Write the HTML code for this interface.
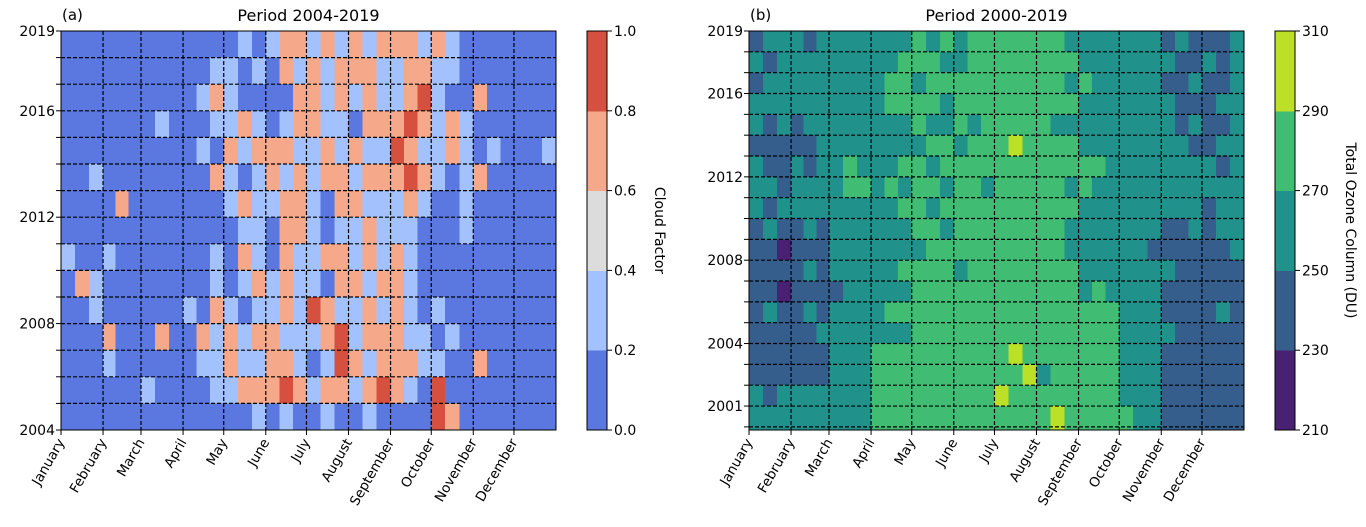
<!DOCTYPE html>
<html><head><meta charset="utf-8">
<style>
html,body{margin:0;padding:0;background:#fff;}
svg{display:block;font-family:"DejaVu Sans","Liberation Sans",sans-serif;}
</style></head>
<body>
<svg id="fig" width="1366" height="527" viewBox="0 0 1366 527" xmlns="http://www.w3.org/2000/svg"></svg>
<script>
// ---- data ----
const months = ["January","February","March","April","May","June","July","August","September","October","November","December"];
const monthStartDays = [0,31,59,90,120,151,181,212,243,273,304,334,365];
// Panel a: cloud factor class (0..4 -> 0.1..0.9), rows 2018 (top) .. 2004 (bottom), 36 ten-day bins
const cloudYears = [2018,2017,2016,2015,2014,2013,2012,2011,2010,2009,2008,2007,2006,2005,2004];
const cloudClass = [
[0,0,0,0,0,0,0,0,0,0,0,0,0,1,0,1,3,3,1,3,1,3,1,3,3,3,1,3,1,0,0,0,0,0,0,0],
[0,0,0,0,0,0,0,0,0,0,0,1,1,0,1,0,3,1,3,1,3,3,3,1,1,3,3,1,1,0,0,0,0,0,0,0],
[0,0,0,0,0,0,0,0,0,0,1,3,1,0,0,0,0,3,3,1,3,1,3,1,1,3,4,1,0,0,3,0,0,0,0,0],
[0,0,0,0,0,0,0,1,0,0,0,1,1,3,1,0,1,3,3,1,1,0,3,3,3,4,3,1,3,1,0,0,0,0,0,0],
[0,0,0,0,0,0,0,0,0,0,1,0,3,1,3,3,3,1,1,3,1,3,1,1,4,3,1,1,3,1,0,1,0,0,0,1],
[0,0,1,0,0,0,0,0,0,0,0,3,1,0,1,3,1,3,1,3,3,1,3,3,3,4,3,1,0,1,3,0,0,0,0,0],
[0,0,0,0,3,0,0,0,0,0,0,0,1,3,1,1,3,3,1,0,3,3,1,1,1,3,1,0,0,1,0,0,0,0,0,0],
[0,0,0,0,0,0,0,0,0,0,0,0,0,1,1,0,3,3,1,0,1,1,3,1,1,1,0,0,0,1,0,0,0,0,0,0],
[1,0,0,1,0,0,0,0,0,0,0,1,0,3,1,0,3,1,1,3,3,1,3,1,3,1,0,0,0,0,0,0,0,0,0,0],
[0,3,1,0,0,0,0,0,0,0,0,1,0,1,3,1,3,1,1,0,3,3,1,3,3,1,0,0,0,0,0,0,0,0,0,0],
[0,0,1,0,0,0,0,0,0,1,0,3,1,0,1,1,3,1,4,3,1,1,3,1,3,1,0,1,0,0,0,0,0,0,0,0],
[0,0,0,3,0,0,0,3,0,0,3,1,3,1,3,3,1,1,1,3,4,1,3,3,3,1,1,0,1,0,0,0,0,0,0,0],
[0,0,0,1,0,0,0,0,0,0,1,1,3,1,1,3,3,1,0,1,4,3,1,3,3,3,1,1,0,0,3,0,0,0,0,0],
[0,0,0,0,0,0,1,0,0,0,0,1,1,3,3,3,4,3,1,3,3,1,3,4,3,1,0,4,0,0,0,0,0,0,0,0],
[0,0,0,0,0,0,0,0,0,0,0,0,0,0,1,0,1,0,0,1,0,0,1,0,0,0,0,4,3,0,0,0,0,0,0,0]
];
const cloudTicks = [2004,2008,2012,2016,2019];
const cloudBarTicks = ["0.0","0.2","0.4","0.6","0.8","1.0"];
// Panel b: ozone class (0..4 -> 220..300 DU), rows 2018 (top) .. 2000 (bottom)
const ozoneYears = [2018,2017,2016,2015,2014,2013,2012,2011,2010,2009,2008,2007,2006,2005,2004,2003,2002,2001,2000];
const ozoneClass = [
[1,2,2,2,1,2,2,2,2,2,2,2,3,2,3,2,3,3,3,3,3,3,3,2,2,2,2,2,2,2,1,2,1,1,1,2],
[2,1,2,2,2,2,2,2,2,2,2,3,3,3,2,2,3,3,3,3,3,3,3,3,2,2,2,2,2,2,2,1,1,2,1,2],
[1,2,2,2,2,2,2,2,2,2,3,3,2,3,3,3,3,3,3,3,3,3,3,2,3,2,2,2,2,2,1,1,2,1,1,2],
[2,2,2,2,2,2,2,2,2,2,3,3,3,3,2,3,3,3,3,3,3,3,3,3,2,2,2,2,2,2,2,1,1,1,2,2],
[2,1,2,1,2,2,2,2,2,2,2,2,3,2,2,3,2,3,3,3,3,3,2,2,2,2,2,2,2,2,2,1,2,1,1,2],
[1,1,1,1,1,2,2,2,2,2,2,2,2,3,3,2,3,3,3,4,3,3,3,3,2,2,2,2,2,2,2,2,1,1,2,2],
[2,1,1,2,1,2,2,3,2,2,2,3,3,2,3,3,3,3,3,3,3,3,3,3,3,3,2,2,2,2,2,2,2,2,1,2],
[2,2,1,2,2,2,2,3,3,2,3,2,3,3,2,3,3,2,3,3,3,3,3,2,3,2,2,2,2,2,2,2,2,2,2,2],
[2,1,2,2,2,2,2,2,2,2,2,3,3,2,3,3,3,3,3,3,3,3,3,3,2,2,2,2,2,2,2,2,2,1,2,2],
[1,2,1,1,2,1,2,2,2,2,2,2,3,3,2,3,3,3,3,3,3,3,3,2,2,2,2,2,2,2,1,1,2,1,2,2],
[1,1,0,1,1,1,2,2,2,2,2,2,2,3,3,3,3,3,3,3,3,3,3,2,2,2,2,2,2,1,1,1,1,1,1,2],
[1,1,1,1,2,1,2,2,2,2,2,3,3,3,3,2,3,3,3,3,3,3,3,3,2,2,2,2,2,2,2,1,1,1,1,1],
[1,1,0,1,1,1,1,2,2,2,2,2,3,3,3,3,3,3,3,3,3,3,3,3,2,3,2,2,2,2,1,1,1,1,1,1],
[1,2,1,1,2,1,2,2,2,2,3,3,3,3,3,3,3,3,3,3,3,3,3,3,3,3,3,2,2,2,1,1,1,1,2,1],
[1,1,1,1,1,2,2,2,2,2,2,2,3,3,3,3,3,3,3,3,3,3,3,3,3,3,3,2,2,2,2,1,1,1,1,1],
[1,1,1,1,1,1,2,2,2,3,3,3,3,3,3,3,3,3,3,4,3,3,3,3,3,3,3,2,2,2,1,1,1,1,1,1],
[1,1,1,1,1,1,2,2,2,3,3,3,3,3,3,3,3,3,3,3,4,2,3,3,3,3,3,2,2,2,1,1,1,1,1,1],
[2,1,2,2,2,2,2,2,2,3,3,3,3,3,3,3,3,3,4,3,3,3,3,3,3,3,3,2,2,2,1,1,1,1,1,1],
[2,2,2,2,2,2,2,2,2,3,3,3,3,3,3,3,3,3,3,3,3,3,4,3,3,3,3,3,2,2,1,1,1,1,1,1]
];
const ozoneTicks = [2001,2004,2008,2012,2016,2019];
const ozoneBarTicks = ["210","230","250","270","290","310"];

const coolColors = ["#5a78e0","#a2c1fd","#dcdcdc","#f5a98a","#d5503f"];
const virColors = ["#482172","#355e8d","#21918c","#40bd72","#bcdf27"];

const NS="http://www.w3.org/2000/svg";
const svg=document.getElementById('fig');
function el(tag,attrs,parent){const e=document.createElementNS(NS,tag);for(const k in attrs)e.setAttribute(k,attrs[k]);(parent||svg).appendChild(e);return e;}

function panel(cfg){
  const g=el('g',{});
  
  
  const {x0,x1,y0,y1,yTop,yBot}=cfg;
  const xs=d=>x0+(x1-x0)*d/365;
  const ys=yr=>y1-(y1-y0)*(yr-yBot)/(yTop-yBot);
  const cg=el('g',{'shape-rendering':'crispEdges'},g);
  
  
  cfg.years.forEach((yr,r)=>{
    const top=Math.max(ys(yr+1),y0), bot=Math.min(ys(yr),y1);
    const yb = r===cfg.years.length-1 ? y1 : bot;
    cfg.data[r].forEach((c,k)=>{
      const m=Math.floor(k/3), p=k%3;
      const ds=monthStartDays[m], de=monthStartDays[m+1];
      const a=xs(ds+(de-ds)*p/3), b=xs(ds+(de-ds)*(p+1)/3);
      const rc=el('rect',{x:a,y:top,width:b-a+0.6,height:yb-top+0.6,fill:cfg.colors[c]},cg);
      
      
    });
  });
  for(let m=1;m<12;m++){
    const x=xs(monthStartDays[m]);
    const l=el('line',{x1:x,x2:x,y1:y0,y2:y1,stroke:'#000','stroke-width':1.2,'stroke-dasharray':'4,2'},g);
    
    
  }
  for(let yr=Math.ceil(yBot);yr<=Math.floor(yTop);yr++){
    const y=ys(yr); if(y<=y0+1||y>=y1-1)continue;
    const l=el('line',{x1:x0,x2:x1,y1:y,y2:y,stroke:'#000','stroke-width':1.2,'stroke-dasharray':'4,2'},g);
    
    
  }
  for(let yr=Math.ceil(yBot);yr<=Math.floor(yTop);yr++){
    const y=ys(yr);
    el('line',{x1:x0-5,x2:x0,y1:y,y2:y,stroke:'#000','stroke-width':1},g);
  }
  const fr=el('rect',{x:x0,y:y0,width:x1-x0,height:y1-y0,fill:'none',stroke:'#000','stroke-width':1},g);
  
  
  cfg.yTicks.forEach(t=>{
    const tx=el('text',{x:x0-6,y:ys(t)+5,'text-anchor':'end','font-size':14,fill:'#000'},g);
    tx.textContent=t;
    
    
  });
  months.forEach((mn,m)=>{
    const x=xs(monthStartDays[m]);
    el('line',{x1:x,x2:x,y1:y1,y2:y1+5,stroke:'#000','stroke-width':1},g);
    const tx=el('text',{x:x+4,y:y1+12,'text-anchor':'end','font-size':13.5,fill:'#000',transform:`rotate(-60 ${x+4} ${y1+12})`},g);
    tx.textContent=mn;
    
    
  });
  const ti=el('text',{x:(x0+x1)/2,y:21,'text-anchor':'middle','font-size':16,fill:'#000'},g);
  ti.textContent=cfg.title;
  
  
  const lb=el('text',{x:x0+1,y:20,'font-size':15,fill:'#000'},g);
  lb.textContent=cfg.label;
  
  
  const cb=el('g',{'shape-rendering':'crispEdges'},g);
  
  
  const h=(y1-y0)/5;
  for(let i=0;i<5;i++){
    el('rect',{x:cfg.cbx,y:y1-(i+1)*h,width:20,height:h+0.5,fill:cfg.colors[i]},cb);
  }
  el('rect',{x:cfg.cbx,y:y0,width:20,height:y1-y0,fill:'none',stroke:'#000','stroke-width':1},cb);
  cfg.barTicks.forEach((t,i)=>{
    const y=y1-i*h;
    el('line',{x1:cfg.cbx+20,x2:cfg.cbx+25,y1:y,y2:y,stroke:'#000'},g);
    const tx=el('text',{x:cfg.cbx+27,y:y+5,'font-size':14,fill:'#000'},g);
    tx.textContent=t;
    
    
  });
  const ct=el('text',{x:cfg.cbTitleX,y:(y0+y1)/2,'text-anchor':'middle','font-size':14,fill:'#000',transform:`rotate(90 ${cfg.cbTitleX} ${(y0+y1)/2})`},g);
  ct.textContent=cfg.cbTitle;
  
  
}

panel({name:'cloud-factor-panel',x0:61,x1:556,y0:31,y1:430,yTop:2019,yBot:2004,years:cloudYears,data:cloudClass,colors:coolColors,
  yTicks:cloudTicks,barTicks:cloudBarTicks,cbx:587,cbTitleX:655,cbTitle:'Cloud Factor',title:'Period 2004-2019',label:'(a)'});
panel({name:'ozone-panel',x0:749,x1:1244,y0:31,y1:430,yTop:2019,yBot:1999.85,years:ozoneYears,data:ozoneClass,colors:virColors,
  yTicks:ozoneTicks,barTicks:ozoneBarTicks,cbx:1275,cbTitleX:1346,cbTitle:'Total Ozone Column (DU)',title:'Period 2000-2019',label:'(b)'});
</script>
</body></html>
